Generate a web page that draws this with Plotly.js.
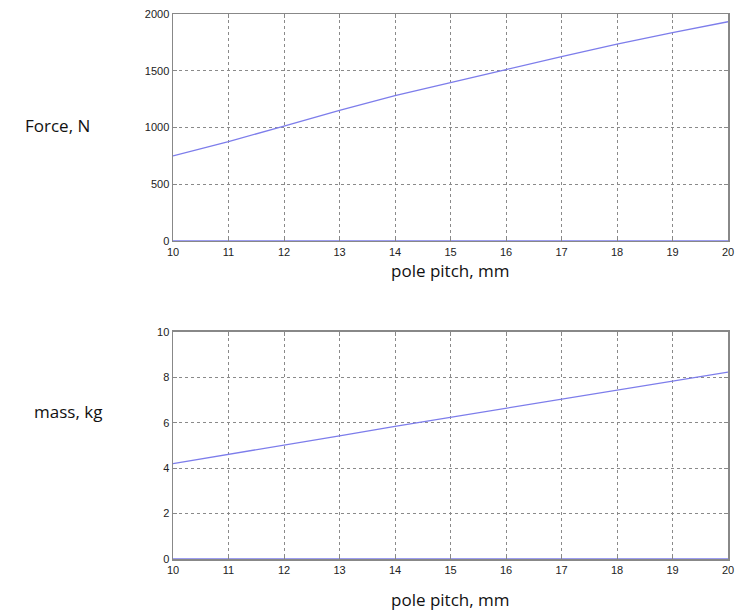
<!DOCTYPE html>
<html>
<head>
<meta charset="utf-8">
<script src="https://cdn.plot.ly/plotly-3.0.1.min.js"></script>
<style>html,body{margin:0;padding:0;background:#fff;}#chart{width:735px;height:611px;}</style>
</head>
<body>
<div id="chart"></div>
<script>
const polePitch = [10, 11, 12, 13, 14, 15, 16, 17, 18, 19, 20];
const forceN = [749, 875, 1013, 1150, 1280, 1398, 1510, 1625, 1735, 1835, 1932];
const massKg = [4.2, 4.6, 5.0, 5.42, 5.84, 6.24, 6.63, 7.03, 7.42, 7.83, 8.22];
const zeroLine = [0, 0, 0, 0, 0, 0, 0, 0, 0, 0, 0];
const xTicks = [10, 11, 12, 13, 14, 15, 16, 17, 18, 19, 20];
const forceTicks = [0, 500, 1000, 1500, 2000];
const massTicks = [0, 2, 4, 6, 8, 10];

const lineColor = 'rgb(125,125,235)';
const tickFont = {family: 'Liberation Sans, Arial, sans-serif', size: 11, color: '#222'};
const titleFont = {family: 'Open Sans, sans-serif', size: 17, color: '#111'};

const traces = [
  {x: polePitch, y: forceN, xaxis: 'x', yaxis: 'y', mode: 'lines', line: {color: lineColor, width: 1.3}, showlegend: false, hoverinfo: 'skip'},
  {x: polePitch, y: zeroLine, xaxis: 'x', yaxis: 'y', mode: 'lines', line: {color: lineColor, width: 1.3}, showlegend: false, hoverinfo: 'skip', cliponaxis: false},
  {x: polePitch, y: massKg, xaxis: 'x2', yaxis: 'y2', mode: 'lines', line: {color: lineColor, width: 1.3}, showlegend: false, hoverinfo: 'skip'},
  {x: polePitch, y: zeroLine, xaxis: 'x2', yaxis: 'y2', mode: 'lines', line: {color: lineColor, width: 1.3}, showlegend: false, hoverinfo: 'skip', cliponaxis: false}
];

function xax(anchor) {
  return {
    anchor: anchor, domain: [0, 1], range: [10, 20], tickvals: xTicks, ticktext: xTicks.map(String),
    showgrid: true, gridcolor: '#8a8a8a', griddash: 'dot', gridwidth: 1,
    showline: true, linecolor: '#888', linewidth: 1.5, mirror: 'ticks',
    ticks: 'inside', ticklen: 4, tickcolor: '#888', tickfont: tickFont, zeroline: false
  };
}
function yax(anchor, dom, rng, tv) {
  return {
    anchor: anchor, domain: dom, range: rng, tickvals: tv, ticktext: tv.map(String),
    showgrid: true, gridcolor: '#8a8a8a', griddash: 'dot', gridwidth: 1,
    showline: true, linecolor: '#888', linewidth: 1.5, mirror: 'ticks',
    ticks: 'inside', ticklen: 4, tickcolor: '#888', tickfont: tickFont, zeroline: false
  };
}

const layout = {
  width: 735, height: 611,
  margin: {l: 173, r: 7, t: 14, b: 52},
  paper_bgcolor: '#fff', plot_bgcolor: '#fff',
  xaxis: xax('y'),
  yaxis: yax('x', [0.5835, 1], [0, 2000], forceTicks),
  xaxis2: xax('y2'),
  yaxis2: yax('x2', [0, 0.417], [0, 10], massTicks),
  annotations: [
    {text: 'pole pitch, mm', xref: 'paper', yref: 'paper', x: 0.5, y: 0.530, showarrow: false, font: titleFont, xanchor: 'center', yanchor: 'middle'},
    {text: 'pole pitch, mm', xref: 'paper', yref: 'paper', x: 0.5, y: -0.075, showarrow: false, font: titleFont, xanchor: 'center', yanchor: 'middle'},
    {text: 'Force, N', xref: 'paper', yref: 'paper', x: -0.209, y: 0.796, showarrow: false, font: titleFont, xanchor: 'center', yanchor: 'middle'},
    {text: 'mass, kg', xref: 'paper', yref: 'paper', x: -0.19, y: 0.27, showarrow: false, font: titleFont, xanchor: 'center', yanchor: 'middle'}
  ]
};

Plotly.newPlot('chart', traces, layout, {staticPlot: true, displayModeBar: false});
</script>
</body>
</html>
